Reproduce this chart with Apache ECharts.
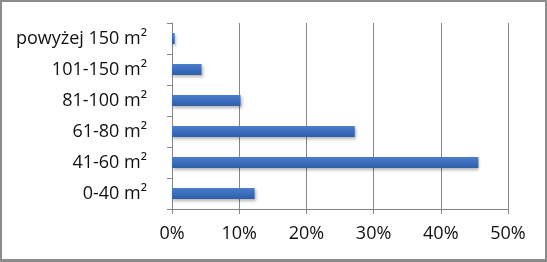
<!DOCTYPE html>
<html>
<head>
<meta charset="utf-8">
<script src="https://cdn.jsdelivr.net/npm/echarts@6/dist/echarts.min.js"></script>
<style>
    html, body { margin: 0; padding: 0; background: #fff; }
    #chart {
        width: 547px; height: 262px; box-sizing: border-box;
        border: 2px solid #8c8c8c; border-bottom-width: 3px;
    }
</style>
</head>
<body>
<div id="chart"></div>
<script>
// kategorie powierzchni (od dołu)
var categories = ['0-40 m²', '41-60 m²', '61-80 m²', '81-100 m²', '101-150 m²', 'powyżej 150 m²'];
// udział w %
var shares = [12.3, 45.6, 27.2, 10.2, 4.4, 0.4];
var xTicks = [0, 10, 20, 30, 40, 50];

var chart = echarts.init(document.getElementById('chart'));
chart.setOption({
    animation: false,
    grid: {left: 170, right: 37, top: 21, bottom: 50},
    xAxis: {
        type: 'value',
        min: xTicks[0],
        max: xTicks[xTicks.length - 1],
        interval: 10,
        axisLine: {show: true, lineStyle: {color: '#868686'}},
        axisTick: {show: true, length: 5, lineStyle: {color: '#868686'}},
        axisLabel: {
            formatter: '{value}%', color: '#111', fontSize: 18,
            fontFamily: 'Open Sans', margin: 16
        },
        splitLine: {show: true, lineStyle: {color: '#868686', width: 1}}
    },
    yAxis: {
        type: 'category',
        data: categories,
        axisLine: {show: true, lineStyle: {color: '#868686'}},
        axisTick: {show: true, length: 5, lineStyle: {color: '#868686'}},
        axisLabel: {
            color: '#111', fontSize: 18, fontFamily: 'Open Sans', margin: 25
        }
    },
    series: [{
        type: 'bar',
        data: shares,
        barWidth: 11,
        itemStyle: {
            color: new echarts.graphic.LinearGradient(0, 0, 0, 1, [
                {offset: 0, color: '#4a7fcc'},
                {offset: 0.5, color: '#3a6dbd'},
                {offset: 1, color: '#2f5fa8'}
            ]),
            shadowColor: 'rgba(0,0,0,0.3)',
            shadowBlur: 3,
            shadowOffsetX: 1,
            shadowOffsetY: 2
        }
    }]
});
</script>
</body>
</html>
